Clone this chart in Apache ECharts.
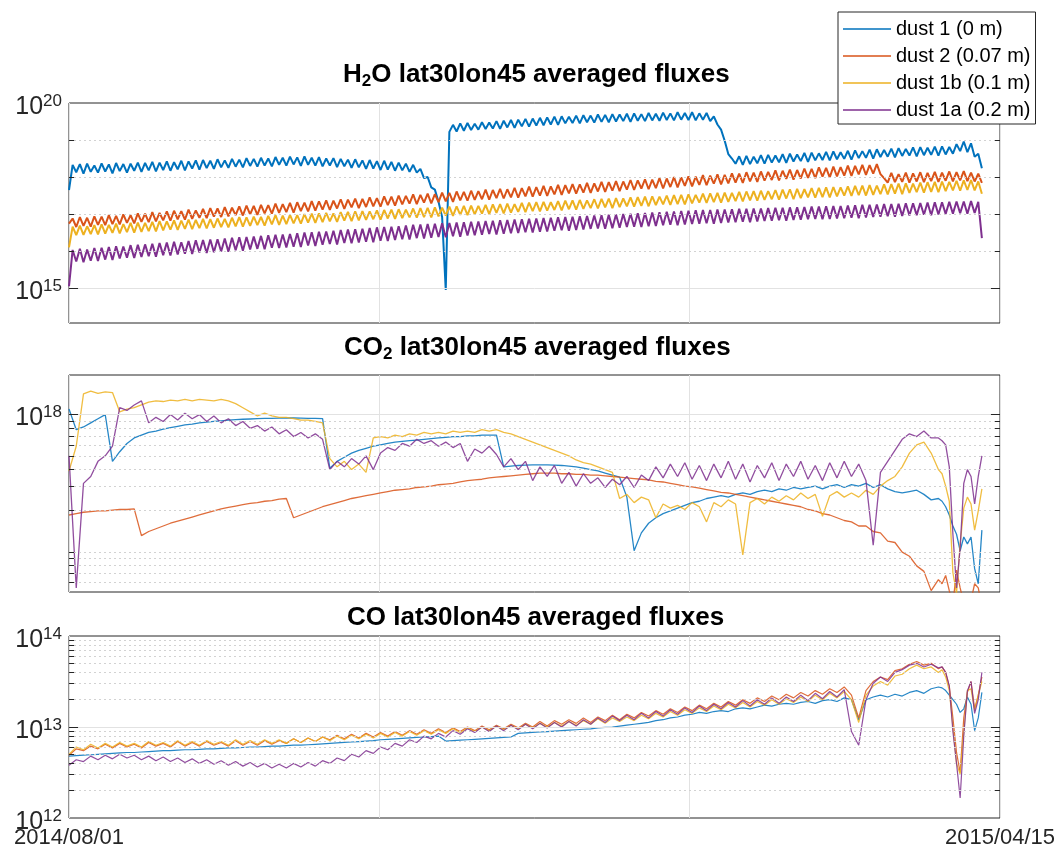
<!DOCTYPE html>
<html><head><meta charset="utf-8">
<script src="https://cdn.jsdelivr.net/npm/echarts@6/dist/echarts.min.js"></script>
<style>html,body{margin:0;padding:0;background:#fff}#c{width:1059px;height:852px}</style>
</head><body><div id="c"></div>
<script>
// ---------- names / labels ----------
const SERIES_NAMES = ['dust 1 (0 m)', 'dust 2 (0.07 m)', 'dust 1b (0.1 m)', 'dust 1a (0.2 m)'];
const COLORS = ['#0072BD', '#D95319', '#EDB120', '#7E2F8E'];
const X_LABELS = ['2014/08/01', '2015/04/15'];
const X_SPAN_DAYS = 257; // 2014/08/01 .. 2015/04/15
const TITLES = ['{a|H}{s|2}{a|O lat30lon45 averaged fluxes}', '{a|CO}{s|2}{a| lat30lon45 averaged fluxes}', '{a|CO lat30lon45 averaged fluxes}'];

// ---------- H2O panel: log10(flux), one value per day from 2014/08/01 ----------
const H2O_DUST1 = [
17.65,18.33,18.13,18.35,18.09,18.36,18.14,18.31,18.12,18.37,
18.15,18.34,18.10,18.38,18.16,18.35,18.12,18.36,18.17,18.39,
18.14,18.38,18.18,18.41,18.15,18.39,18.19,18.42,18.17,18.40,
18.21,18.44,18.18,18.42,18.23,18.45,18.20,18.46,18.24,18.44,
18.22,18.48,18.26,18.45,18.25,18.49,18.28,18.47,18.26,18.51,
18.30,18.49,18.28,18.52,18.31,18.50,18.29,18.54,18.33,18.52,
18.31,18.55,18.34,18.53,18.30,18.56,18.33,18.52,18.31,18.54,
18.29,18.50,18.31,18.51,18.27,18.49,18.29,18.47,18.25,18.48,
18.26,18.45,18.22,18.46,18.23,18.43,18.19,18.44,18.20,18.41,
18.17,18.39,18.18,18.36,18.14,18.33,18.12,18.22,17.97,18.00,
17.72,17.66,17.33,16.92,14.95,19.22,19.41,19.23,19.45,19.25,
19.46,19.27,19.44,19.28,19.48,19.30,19.47,19.31,19.51,19.30,
19.52,19.34,19.54,19.33,19.55,19.37,19.57,19.36,19.58,19.39,
19.60,19.40,19.61,19.42,19.63,19.41,19.64,19.45,19.63,19.46,
19.66,19.45,19.67,19.48,19.66,19.47,19.69,19.49,19.68,19.48,
19.70,19.50,19.69,19.51,19.71,19.49,19.72,19.52,19.70,19.51,
19.73,19.53,19.71,19.52,19.74,19.54,19.72,19.53,19.75,19.55,
19.73,19.54,19.75,19.53,19.72,19.55,19.73,19.51,19.64,19.42,
19.28,18.98,18.62,18.50,18.36,18.56,18.33,18.57,18.35,18.55,
18.37,18.59,18.36,18.60,18.39,18.58,18.40,18.62,18.38,18.63,
18.42,18.61,18.43,18.65,18.41,18.66,18.45,18.64,18.46,18.68,
18.45,18.69,18.48,18.67,18.49,18.71,18.47,18.72,18.51,18.70,
18.52,18.74,18.50,18.75,18.54,18.73,18.55,18.77,18.53,18.78,
18.57,18.76,18.58,18.80,18.56,18.81,18.59,18.79,18.60,18.82,
18.58,18.83,18.61,18.81,18.63,18.89,18.70,18.96,18.67,18.91,
18.55,18.63,18.24];
const H2O_DUST2 = [
16.74,16.88,16.65,16.92,16.68,16.90,16.66,16.94,16.71,16.93,
16.70,16.97,16.73,16.95,16.72,16.99,16.76,16.97,16.75,17.02,
16.79,17.01,16.78,17.05,16.80,17.03,16.83,17.07,16.82,17.09,
16.86,17.08,16.85,17.12,16.87,17.10,16.90,17.14,16.89,17.16,
16.93,17.15,16.92,17.19,16.94,17.17,16.97,17.21,16.96,17.23,
16.99,17.22,16.98,17.25,17.02,17.24,17.01,17.28,17.03,17.27,
17.05,17.30,17.04,17.32,17.08,17.31,17.07,17.35,17.09,17.34,
17.12,17.37,17.11,17.36,17.15,17.40,17.14,17.39,17.18,17.42,
17.16,17.41,17.19,17.45,17.21,17.43,17.20,17.48,17.24,17.47,
17.23,17.50,17.26,17.49,17.28,17.53,17.27,17.52,17.31,17.55,
17.29,17.54,17.32,17.58,17.34,17.57,17.33,17.61,17.37,17.60,
17.36,17.63,17.38,17.62,17.40,17.66,17.39,17.65,17.43,17.68,
17.42,17.67,17.45,17.71,17.44,17.70,17.48,17.74,17.47,17.73,
17.50,17.76,17.49,17.75,17.53,17.79,17.52,17.78,17.56,17.81,
17.55,17.80,17.58,17.84,17.57,17.83,17.61,17.87,17.60,17.86,
17.63,17.89,17.62,17.88,17.66,17.92,17.65,17.91,17.69,17.94,
17.67,17.93,17.70,17.97,17.69,17.96,17.73,18.00,17.72,17.99,
17.76,18.02,17.75,18.01,17.79,18.05,17.78,18.04,17.82,18.07,
17.80,18.06,17.83,18.10,17.85,18.09,17.84,18.13,17.88,18.12,
17.87,18.15,17.90,18.14,17.92,18.18,17.91,18.17,17.95,18.20,
17.93,18.19,17.96,18.23,17.98,18.22,17.97,18.26,18.01,18.25,
17.99,18.28,18.02,18.27,18.04,18.31,18.03,18.30,18.07,18.33,
18.06,18.32,18.09,18.35,18.08,17.97,17.85,18.11,17.86,18.08,
17.87,18.12,17.85,18.10,17.88,18.13,17.86,18.11,17.89,18.14,
17.87,18.12,17.90,18.15,17.88,18.13,17.91,18.16,17.89,18.12,
17.88,18.09,17.84];
const H2O_DUST1B = [
16.10,16.66,16.43,16.69,16.44,16.67,16.46,16.70,16.45,16.72,
16.47,16.71,16.49,16.74,16.48,16.73,16.51,16.76,16.50,16.77,
16.52,16.76,16.54,16.79,16.53,16.81,16.56,16.80,16.58,16.83,
16.57,16.82,16.60,16.85,16.59,16.84,16.62,16.87,16.61,16.86,
16.63,16.88,16.65,16.87,16.64,16.90,16.67,16.92,16.66,16.91,
16.68,16.93,16.70,16.92,16.69,16.95,16.72,16.97,16.71,16.96,
16.73,16.98,16.75,16.97,16.74,17.00,16.77,17.01,16.76,17.02,
16.78,17.03,16.80,17.02,16.79,17.05,16.82,17.06,16.81,17.07,
16.83,17.08,16.84,17.07,16.86,17.10,16.85,17.11,16.88,17.12,
16.87,17.13,16.89,17.12,16.91,17.15,16.90,17.16,16.92,17.17,
16.91,17.18,16.94,17.17,16.96,17.20,16.95,17.21,16.98,17.22,
16.97,17.23,16.99,17.22,17.01,17.25,17.00,17.26,17.03,17.27,
17.02,17.28,17.04,17.27,17.06,17.30,17.05,17.31,17.08,17.32,
17.07,17.33,17.09,17.32,17.11,17.35,17.10,17.36,17.13,17.37,
17.12,17.38,17.14,17.37,17.16,17.40,17.15,17.41,17.18,17.42,
17.16,17.43,17.19,17.42,17.21,17.45,17.20,17.46,17.22,17.47,
17.21,17.48,17.24,17.47,17.26,17.50,17.25,17.51,17.27,17.52,
17.26,17.53,17.29,17.52,17.31,17.55,17.30,17.56,17.32,17.57,
17.31,17.58,17.33,17.57,17.35,17.60,17.34,17.61,17.37,17.62,
17.36,17.63,17.38,17.62,17.40,17.65,17.39,17.66,17.42,17.67,
17.40,17.68,17.43,17.67,17.45,17.70,17.44,17.71,17.46,17.72,
17.45,17.73,17.48,17.72,17.50,17.75,17.49,17.76,17.51,17.77,
17.50,17.78,17.52,17.77,17.54,17.80,17.53,17.81,17.55,17.82,
17.54,17.83,17.57,17.82,17.59,17.85,17.58,17.86,17.60,17.87,
17.59,17.88,17.62,17.87,17.64,17.90,17.63,17.91,17.65,17.92,
17.64,17.88,17.55];
const H2O_DUST1A = [
15.05,16.03,15.72,16.06,15.70,16.04,15.74,16.08,15.73,16.09,
15.77,16.11,15.76,16.13,15.80,16.12,15.82,16.16,15.81,16.17,
15.84,16.18,15.86,16.20,15.85,16.22,15.89,16.23,15.88,16.25,
15.91,16.24,15.93,16.27,15.92,16.29,15.96,16.30,15.95,16.31,
15.97,16.32,15.99,16.34,15.98,16.36,16.02,16.37,16.01,16.38,
16.04,16.39,16.06,16.41,16.05,16.43,16.09,16.44,16.08,16.45,
16.10,16.46,16.12,16.48,16.11,16.50,16.15,16.51,16.14,16.52,
16.17,16.53,16.19,16.55,16.18,16.57,16.22,16.58,16.21,16.59,
16.23,16.60,16.25,16.62,16.24,16.64,16.28,16.65,16.27,16.66,
16.30,16.67,16.32,16.69,16.31,16.71,16.35,16.72,16.34,16.73,
16.36,16.74,16.38,16.75,16.37,16.76,16.40,16.77,16.39,16.78,
16.42,16.79,16.43,16.80,16.44,16.81,16.46,16.82,16.45,16.83,
16.47,16.84,16.48,16.85,16.49,16.86,16.51,16.87,16.50,16.88,
16.52,16.89,16.53,16.90,16.55,16.91,16.56,16.92,16.55,16.93,
16.57,16.94,16.58,16.95,16.60,16.96,16.61,16.97,16.60,16.98,
16.62,16.99,16.63,17.00,16.65,17.01,16.66,17.02,16.65,17.03,
16.67,17.04,16.68,17.05,16.70,17.06,16.71,17.07,16.70,17.08,
16.72,17.09,16.73,17.10,16.74,17.11,16.75,17.11,16.74,17.12,
16.76,17.12,16.77,17.13,16.78,17.14,16.79,17.14,16.78,17.15,
16.80,17.15,16.81,17.16,16.82,17.17,16.83,17.17,16.82,17.18,
16.84,17.18,16.85,17.19,16.86,17.20,16.87,17.20,16.86,17.21,
16.87,17.22,16.88,17.22,16.89,17.23,16.90,17.24,16.89,17.25,
16.91,17.25,16.92,17.26,16.93,17.27,16.94,17.27,16.93,17.28,
16.95,17.29,16.96,17.29,16.97,17.30,16.98,17.31,16.97,17.32,
16.99,17.32,17.00,17.33,17.01,17.34,17.02,17.34,17.01,17.35,
17.03,17.33,16.35];

// ---------- CO2 and CO panels: sample days (from 2014/08/01) ----------
const SAMPLE_DAYS = [
0,2,4,6,8,10,12,14,16,18,
20,22,24,26,28,30,32,34,36,38,
40,42,44,46,48,50,52,54,56,58,
60,62,64,66,68,70,72,74,76,78,
80,82,84,86,88,90,92,94,96,98,
100,102,104,106,108,110,112,114,116,118,
120,122,124,126,128,130,132,134,136,138,
140,142,144,146,148,150,152,154,156,158,
160,162,164,166,168,170,172,174,176,178,
180,182,184,186,188,190,192,194,196,198,
200,202,204,206,208,210,212,214,216,218,
220,222,224,226,228,230,232,234,236,238,
240,241,242,243,244,245,246,247,248,249,250,251,252];

const CO2_DUST1 = [
18.04,17.89,17.91,17.94,17.97,18.00,17.66,17.73,17.79,17.83,
17.85,17.87,17.88,17.895,17.905,17.915,17.925,17.93,17.94,17.945,
17.95,17.955,17.96,17.963,17.966,17.968,17.97,17.972,17.973,17.974,
17.975,17.975,17.974,17.973,17.972,17.97,17.61,17.66,17.69,17.72,
17.74,17.755,17.77,17.78,17.79,17.80,17.805,17.81,17.815,17.82,
17.825,17.83,17.835,17.84,17.84,17.845,17.845,17.85,17.85,17.85,
17.62,17.625,17.63,17.632,17.634,17.635,17.635,17.633,17.63,17.625,
17.62,17.61,17.60,17.59,17.575,17.56,17.545,17.40,17.01,17.14,
17.21,17.25,17.28,17.30,17.32,17.34,17.36,17.37,17.39,17.40,
17.41,17.40,17.42,17.43,17.42,17.44,17.45,17.44,17.46,17.45,
17.47,17.46,17.47,17.48,17.46,17.48,17.49,17.47,17.49,17.48,
17.50,17.47,17.49,17.46,17.44,17.43,17.44,17.45,17.42,17.38,
17.39,17.37,17.33,17.27,17.19,17.13,17.01,17.11,17.06,17.11,16.88,16.77,17.16];
const CO2_DUST2 = [
17.27,17.28,17.29,17.295,17.30,17.30,17.305,17.31,17.31,17.315,
17.12,17.15,17.17,17.19,17.21,17.225,17.24,17.255,17.27,17.285,
17.30,17.315,17.325,17.335,17.345,17.355,17.36,17.37,17.375,17.385,
17.39,17.25,17.27,17.29,17.31,17.33,17.345,17.36,17.375,17.39,
17.40,17.41,17.42,17.43,17.44,17.45,17.455,17.46,17.47,17.475,
17.48,17.49,17.495,17.50,17.51,17.52,17.525,17.53,17.54,17.545,
17.55,17.555,17.56,17.565,17.57,17.575,17.575,17.575,17.57,17.57,
17.565,17.565,17.56,17.56,17.555,17.55,17.545,17.54,17.535,17.53,
17.525,17.515,17.51,17.50,17.49,17.48,17.475,17.465,17.455,17.445,
17.435,17.43,17.42,17.41,17.40,17.39,17.38,17.37,17.36,17.35,
17.34,17.33,17.31,17.30,17.28,17.27,17.25,17.23,17.22,17.19,
17.19,17.15,17.14,17.08,17.07,17.00,16.97,16.90,16.86,16.72,
16.80,16.77,16.83,16.72,16.62,16.87,16.74,16.63,16.60,16.65,16.77,16.74,16.60];
const CO2_DUST1B = [
17.59,17.77,18.15,18.17,18.155,18.165,18.16,18.02,18.04,18.05,
18.07,18.09,18.10,18.095,18.105,18.10,18.11,18.10,18.11,18.105,
18.10,18.11,18.10,18.08,18.05,18.02,17.99,18.01,17.99,17.98,
17.98,17.97,17.96,17.96,17.95,17.94,17.68,17.62,17.66,17.60,
17.64,17.58,17.83,17.84,17.83,17.85,17.84,17.86,17.85,17.87,
17.86,17.87,17.86,17.88,17.87,17.88,17.87,17.89,17.88,17.89,
17.87,17.86,17.84,17.82,17.80,17.78,17.76,17.74,17.72,17.70,
17.67,17.65,17.64,17.62,17.60,17.58,17.39,17.42,17.36,17.40,
17.38,17.25,17.35,17.32,17.34,17.31,17.36,17.33,17.22,17.36,
17.33,17.38,17.35,16.98,17.36,17.39,17.35,17.40,17.37,17.41,
17.38,17.43,17.39,17.42,17.26,17.41,17.44,17.40,17.43,17.40,
17.45,17.42,17.48,17.52,17.55,17.62,17.72,17.78,17.80,17.72,
17.60,17.57,17.48,17.37,16.85,16.70,17.06,17.32,17.40,17.35,17.16,17.30,17.46];
const CO2_DUST1A = [
17.70,16.74,17.50,17.55,17.66,17.70,17.77,18.05,18.03,18.07,
18.10,17.94,17.98,17.95,18.00,17.96,18.01,17.97,18.00,17.95,
17.99,17.94,17.97,17.92,17.95,17.90,17.92,17.88,17.91,17.86,
17.89,17.84,17.87,17.83,17.86,17.82,17.60,17.66,17.62,17.68,
17.64,17.70,17.60,17.72,17.76,17.74,17.79,17.77,17.82,17.79,
17.81,17.77,17.80,17.76,17.79,17.66,17.75,17.72,17.77,17.71,
17.62,17.68,17.60,17.66,17.52,17.62,17.55,17.63,17.50,17.58,
17.48,17.57,17.50,17.54,17.47,17.53,17.49,17.55,17.47,17.56,
17.52,17.62,17.54,17.64,17.55,17.65,17.53,17.63,17.52,17.64,
17.54,17.66,17.53,17.64,17.51,17.63,17.54,17.65,17.52,17.64,
17.55,17.66,17.53,17.63,17.52,17.65,17.54,17.66,17.55,17.64,
17.52,17.05,17.58,17.66,17.74,17.82,17.86,17.84,17.88,17.83,
17.83,17.81,17.78,17.62,17.13,16.74,17.03,17.50,17.60,17.55,17.35,17.55,17.70];

const CO_DUST1 = [
12.68,12.685,12.69,12.695,12.70,12.705,12.71,12.715,12.72,12.72,
12.725,12.73,12.735,12.74,12.74,12.745,12.75,12.75,12.755,12.76,
12.76,12.765,12.77,12.77,12.775,12.78,12.78,12.785,12.79,12.79,
12.795,12.80,12.80,12.805,12.81,12.815,12.82,12.825,12.83,12.835,
12.84,12.845,12.85,12.86,12.865,12.87,12.875,12.88,12.885,12.89,
12.895,12.90,12.845,12.85,12.855,12.86,12.865,12.87,12.875,12.88,
12.885,12.89,12.93,12.935,12.94,12.945,12.95,12.955,12.96,12.965,
12.97,12.975,12.98,12.99,12.995,13.00,13.01,13.02,13.03,13.04,
13.05,13.07,13.08,13.10,13.11,13.13,13.14,13.16,13.15,13.17,
13.18,13.17,13.20,13.21,13.20,13.22,13.24,13.23,13.25,13.26,
13.25,13.27,13.28,13.26,13.29,13.30,13.28,13.32,13.30,13.08,
13.30,13.33,13.35,13.33,13.36,13.34,13.38,13.40,13.37,13.42,
13.44,13.43,13.40,13.35,13.30,13.25,13.16,13.20,13.33,13.25,12.96,13.10,13.38];
const CO_DUST2 = [
12.69,12.76,12.74,12.79,12.76,12.81,12.77,12.82,12.78,12.81,
12.77,12.83,12.79,12.82,12.78,12.84,12.79,12.83,12.79,12.84,
12.80,12.83,12.79,12.85,12.80,12.84,12.80,12.85,12.81,12.85,
12.82,12.87,12.83,12.88,12.84,12.89,12.86,12.91,12.87,12.92,
12.88,12.93,12.89,12.94,12.90,12.95,12.91,12.96,12.92,12.97,
12.93,12.98,12.94,12.99,12.95,13.00,12.96,13.01,12.97,13.02,
12.98,13.03,12.99,13.04,13.00,13.06,13.01,13.07,13.03,13.08,
13.04,13.10,13.05,13.11,13.07,13.13,13.08,13.14,13.10,13.16,
13.12,13.18,13.14,13.20,13.16,13.22,13.18,13.24,13.20,13.26,
13.22,13.28,13.24,13.30,13.26,13.32,13.28,13.34,13.30,13.36,
13.32,13.38,13.34,13.40,13.36,13.42,13.38,13.44,13.35,13.10,
13.40,13.50,13.55,13.52,13.62,13.64,13.69,13.72,13.68,13.70,
13.64,13.66,13.60,13.45,13.10,12.72,12.50,13.10,13.38,13.50,13.20,13.35,13.55];
const CO_DUST1B = [
12.70,12.78,12.75,12.81,12.77,12.82,12.78,12.83,12.79,12.82,
12.78,12.84,12.80,12.83,12.79,12.85,12.80,12.84,12.80,12.85,
12.81,12.84,12.80,12.86,12.81,12.85,12.81,12.86,12.82,12.86,
12.82,12.87,12.83,12.88,12.84,12.89,12.85,12.90,12.86,12.91,
12.87,12.92,12.88,12.93,12.89,12.94,12.90,12.95,12.91,12.96,
12.92,12.97,12.93,12.98,12.94,12.99,12.95,13.00,12.96,13.01,
12.97,13.02,12.98,13.03,12.99,13.04,13.00,13.05,13.01,13.06,
13.02,13.07,13.03,13.09,13.04,13.10,13.06,13.11,13.07,13.13,
13.09,13.15,13.11,13.17,13.13,13.19,13.15,13.21,13.17,13.23,
13.19,13.25,13.21,13.27,13.22,13.28,13.24,13.30,13.25,13.31,
13.27,13.33,13.28,13.35,13.30,13.37,13.32,13.39,13.30,13.05,
13.35,13.45,13.50,13.46,13.56,13.58,13.64,13.68,13.64,13.66,
13.60,13.63,13.55,13.40,13.00,12.60,12.48,12.95,13.40,13.42,13.18,13.35,13.50];
const CO_DUST1A = [
12.58,12.64,12.62,12.68,12.64,12.69,12.65,12.70,12.66,12.69,
12.64,12.68,12.63,12.67,12.62,12.66,12.61,12.65,12.60,12.64,
12.59,12.63,12.58,12.62,12.57,12.61,12.56,12.60,12.55,12.59,
12.55,12.60,12.56,12.61,12.57,12.63,12.60,12.66,12.63,12.70,
12.67,12.74,12.71,12.78,12.75,12.82,12.79,12.86,12.83,12.90,
12.87,12.93,12.89,12.96,12.92,12.98,12.94,13.00,12.95,13.01,
12.96,13.02,12.97,13.03,12.98,13.04,12.99,13.05,13.00,13.06,
13.01,13.08,13.03,13.10,13.05,13.12,13.07,13.13,13.08,13.15,
13.10,13.17,13.12,13.19,13.14,13.21,13.16,13.23,13.18,13.25,
13.20,13.27,13.22,13.29,13.23,13.30,13.25,13.32,13.26,13.33,
13.28,13.35,13.29,13.37,13.31,13.39,13.33,13.41,12.95,12.80,
13.30,13.48,13.55,13.50,13.60,13.63,13.68,13.70,13.66,13.69,
13.65,13.66,13.60,13.45,12.95,12.60,12.22,12.90,13.40,13.50,13.15,13.30,13.60];

// ---------- axis ranges and grid/tick values ----------
const Y_RANGES = [[1.14e14, 1e20], [5.13e16, 1.94e18], [1e12, 1e14]];
const Y_LABEL_EXPS = [[15, 20], [18], [12, 13, 14]];
const MAJOR_GRID = [[1e15], [1e18], [1e13]];
const MINOR_GRID = [
  [1e16, 1e17, 1e18, 1e19],
  [6e16, 7e16, 8e16, 9e16, 1e17, 2e17, 3e17, 4e17, 5e17, 6e17, 7e17, 8e17, 9e17],
  [2e12, 3e12, 4e12, 5e12, 6e12, 7e12, 8e12, 9e12, 2e13, 3e13, 4e13, 5e13, 6e13, 7e13, 8e13, 9e13]
];

// ---------- build ----------
const FONT = '"Liberation Sans", Arial, Helvetica, sans-serif';
const daily = arr => arr.map((v, i) => [i, Math.pow(10, v)]);
const sampled = arr => arr.map((v, i) => [SAMPLE_DAYS[i], Math.pow(10, v)]);

const PANEL_DATA = [
  [H2O_DUST1, H2O_DUST2, H2O_DUST1B, H2O_DUST1A].map(daily),
  [CO2_DUST1, CO2_DUST2, CO2_DUST1B, CO2_DUST1A].map(sampled),
  [CO_DUST1, CO_DUST2, CO_DUST1B, CO_DUST1A].map(sampled)
];
const GRIDS = [
  {left: 69, top: 103, width: 931, height: 220},
  {left: 69, top: 375, width: 931, height: 217},
  {left: 69, top: 636, width: 931, height: 182}
];
const TITLE_TOPS = [60, 333, 603];
const TITLE_LEFTS = [343, 344, 347];
const LINE_W = [2.0, 1.3, 1.2];
const LINE_OP = [1, 0.85, 0.85];

const MAJ_TICK = 2.5, MIN_TICK = 1.4; // tick lengths in days

function decorData(g) {
  const d = [];
  const tickStyle = {color: '#262626', type: 'solid', width: 1};
  MAJOR_GRID[g].forEach(v => {
    d.push({yAxis: v, lineStyle: {color: '#e2e2e2', type: 'solid', width: 1}});
    d.push([{coord: [0, v], lineStyle: tickStyle}, {coord: [MAJ_TICK, v]}]);
    d.push([{coord: [X_SPAN_DAYS - MAJ_TICK, v], lineStyle: tickStyle}, {coord: [X_SPAN_DAYS, v]}]);
  });
  MINOR_GRID[g].forEach(v => {
    d.push({yAxis: v, lineStyle: {color: '#d2d2d2', type: [2, 3], width: 1}});
    d.push([{coord: [0, v], lineStyle: tickStyle}, {coord: [MIN_TICK, v]}]);
    d.push([{coord: [X_SPAN_DAYS - MIN_TICK, v], lineStyle: tickStyle}, {coord: [X_SPAN_DAYS, v]}]);
  });
  return d;
}

const LABEL_RICH = {
  b: {fontSize: 25, lineHeight: 27, verticalAlign: 'bottom', color: '#262626', fontFamily: FONT},
  e: {fontSize: 17, lineHeight: 17, padding: [0, 0, 14, 0], verticalAlign: 'top', color: '#262626', fontFamily: FONT}
};

const xAxis = [], yAxis = [], series = [], title = [];
for (let g = 0; g < 3; g++) {
  xAxis.push({
    type: 'value', gridIndex: g, min: 0, max: X_SPAN_DAYS, interval: X_SPAN_DAYS / 3,
    axisLine: {show: false}, axisTick: {show: false},
    splitLine: {show: true, lineStyle: {color: '#e2e2e2', width: 1}},
    axisLabel: {
      show: g === 2, margin: 9, fontSize: 22, color: '#262626', fontFamily: FONT,
      showMinLabel: true, showMaxLabel: true,
      formatter: v => (Math.abs(v) < 1e-6 ? X_LABELS[0] : (Math.abs(v - X_SPAN_DAYS) < 1e-6 ? X_LABELS[1] : ''))
    }
  });
  const exps = Y_LABEL_EXPS[g];
  yAxis.push({
    type: 'log', logBase: 10, gridIndex: g, min: Y_RANGES[g][0], max: Y_RANGES[g][1],
    axisLine: {show: false}, axisTick: {show: false}, splitLine: {show: false},
    axisLabel: {
      margin: 7, padding: [6, 0, 0, 0], rich: LABEL_RICH, showMinLabel: true, showMaxLabel: true,
      formatter: v => {
        const l = Math.log10(v), e = Math.round(l);
        return (Math.abs(l - e) < 1e-6 && exps.includes(e)) ? '{b|10}{e|' + e + '}' : '';
      }
    }
  });
  series.push({
    name: '_grid' + g, type: 'line', xAxisIndex: g, yAxisIndex: g, z: 1,
    data: [[0, MAJOR_GRID[g][0]]], symbol: 'none', lineStyle: {opacity: 0}, silent: true,
    markLine: {silent: true, symbol: ['none', 'none'], label: {show: false}, animation: false, data: decorData(g)}
  });
  PANEL_DATA[g].forEach((data, k) => {
    series.push({
      name: SERIES_NAMES[k], type: 'line', xAxisIndex: g, yAxisIndex: g, z: 2,
      data, symbol: 'none', showSymbol: false, silent: true, clip: true,
      lineStyle: {color: COLORS[k], width: LINE_W[g], opacity: LINE_OP[g]},
      itemStyle: {color: COLORS[k]}
    });
  });
  title.push({
    text: TITLES[g], left: TITLE_LEFTS[g], top: TITLE_TOPS[g], padding: 0,
    textStyle: {
      fontFamily: FONT, fontWeight: 'bold', fontSize: 26, color: '#000',
      rich: {
        a: {fontSize: 26, fontWeight: 'bold', color: '#000', lineHeight: 30, fontFamily: FONT},
        s: {fontSize: 17, fontWeight: 'bold', color: '#000', lineHeight: 17, padding: [13, 0, 0, 0], verticalAlign: 'bottom', fontFamily: FONT}
      }
    }
  });
}

const chart = echarts.init(document.getElementById('c'), null, {renderer: 'canvas'});
chart.setOption({
  animation: false,
  backgroundColor: '#fff',
  title,
  grid: GRIDS.map(r => Object.assign({show: true, borderColor: '#262626', borderWidth: 1, backgroundColor: 'transparent'}, r)),
  xAxis, yAxis, series,
  legend: {
    data: SERIES_NAMES, orient: 'vertical', left: 838, top: 12,
    icon: 'rect', itemWidth: 48, itemHeight: 1.5, itemGap: 7, padding: [7, 5, 4, 5],
    backgroundColor: '#fff', borderColor: '#262626', borderWidth: 1, borderRadius: 0,
    selectedMode: false,
    textStyle: {fontSize: 20, color: '#000', fontFamily: FONT}
  }
});
</script>
</body></html>
